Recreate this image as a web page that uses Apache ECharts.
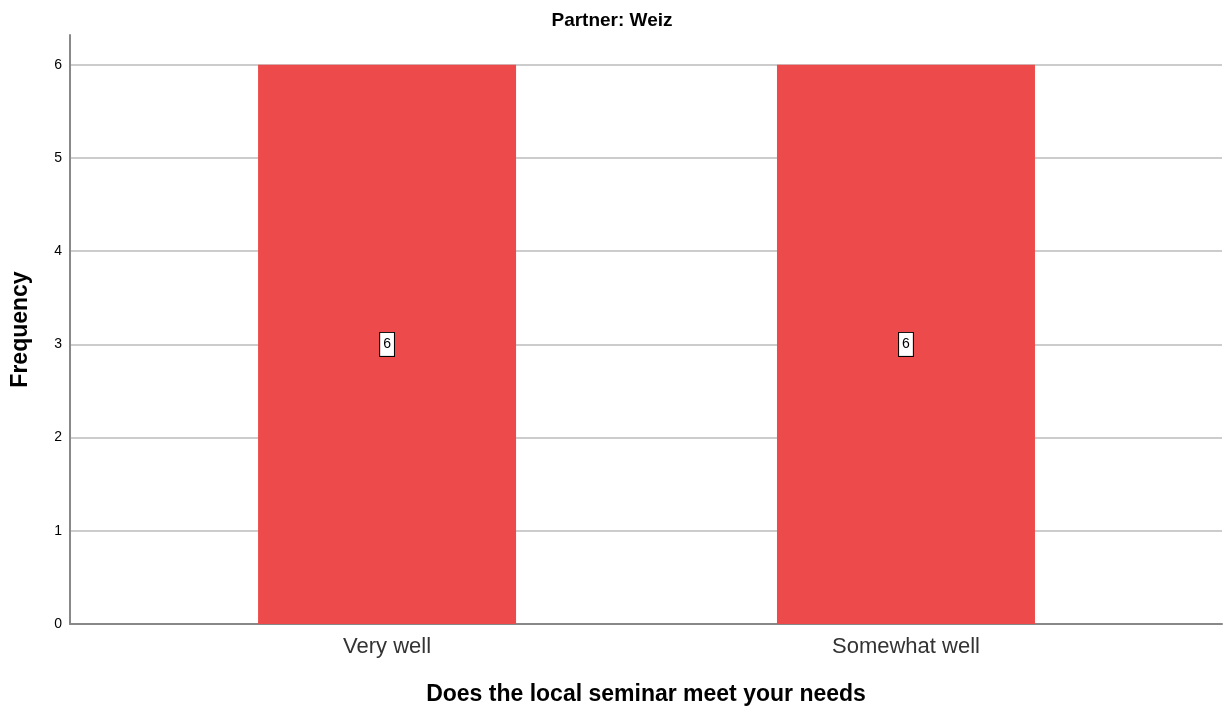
<!DOCTYPE html>
<html>
<head>
<meta charset="utf-8">
<script src="https://cdn.jsdelivr.net/npm/echarts@6/dist/echarts.min.js"></script>
<style>html,body{margin:0;padding:0;background:#fff}#c{width:1224px;height:709px}</style>
</head>
<body>
<div id="c"></div>
<script>
const chartTitle = "Partner: Weiz";
const categories = ["Very well", "Somewhat well"];
const frequencies = [6, 6];
const yTicks = [0, 1, 2, 3, 4, 5, 6];
const xTitle = "Does the local seminar meet your needs";
const yTitle = "Frequency";

const positions = categories.map((c, i) => i + 1);
const seriesData = frequencies.map((v, i) => [positions[i], v]);

const FONT = 'Liberation Sans, Arial, sans-serif';
const chart = echarts.init(document.getElementById('c'));
chart.setOption({
  animation: false,
  backgroundColor: '#ffffff',
  title: {
    text: chartTitle, left: 'center', top: 6,
    textStyle: { fontFamily: FONT, fontSize: 19, fontWeight: 'bold', color: '#000' }
  },
  grid: { left: 70, right: 2, top: 35, bottom: 85, outerBoundsMode: 'none', containLabel: false },
  xAxis: {
    type: 'value', min: 0.389, max: 2.609,
    name: xTitle, nameLocation: 'middle', nameGap: 59,
    nameTextStyle: { fontFamily: FONT, fontSize: 23, fontWeight: 'bold', color: '#000' },
    axisLine: { show: true, lineStyle: { color: '#888', width: 2 } },
    axisTick: { show: false },
    splitLine: { show: false },
    axisLabel: {
      customValues: positions,
      formatter: v => categories[Math.round(v) - 1] || '',
      fontFamily: FONT, fontSize: 22, color: '#333', margin: 12
    }
  },
  yAxis: {
    type: 'value', min: 0, max: 6.32, interval: 1,
    name: yTitle, nameLocation: 'middle', nameGap: 38, nameRotate: 90,
    nameTextStyle: { fontFamily: FONT, fontSize: 23, fontWeight: 'bold', color: '#000' },
    axisLine: { show: true, lineStyle: { color: '#888', width: 2 } },
    axisTick: { show: false },
    splitLine: { show: true, showMaxLine: false, showMinLine: false, lineStyle: { color: '#cccccc', width: 2 } },
    axisLabel: {
      customValues: yTicks,
      fontFamily: FONT, fontSize: 14, color: '#000', margin: 8
    }
  },
  series: [{
    type: 'bar',
    data: seriesData,
    barWidth: 258,
    itemStyle: { color: '#ED4B4B' },
    label: {
      show: true, position: 'inside',
      formatter: p => p.value[1],
      fontFamily: FONT, fontSize: 14, color: '#000',
      backgroundColor: '#fff', borderColor: '#000', borderWidth: 1,
      padding: [5, 3, 4, 3]
    }
  }]
});
</script>
</body>
</html>
